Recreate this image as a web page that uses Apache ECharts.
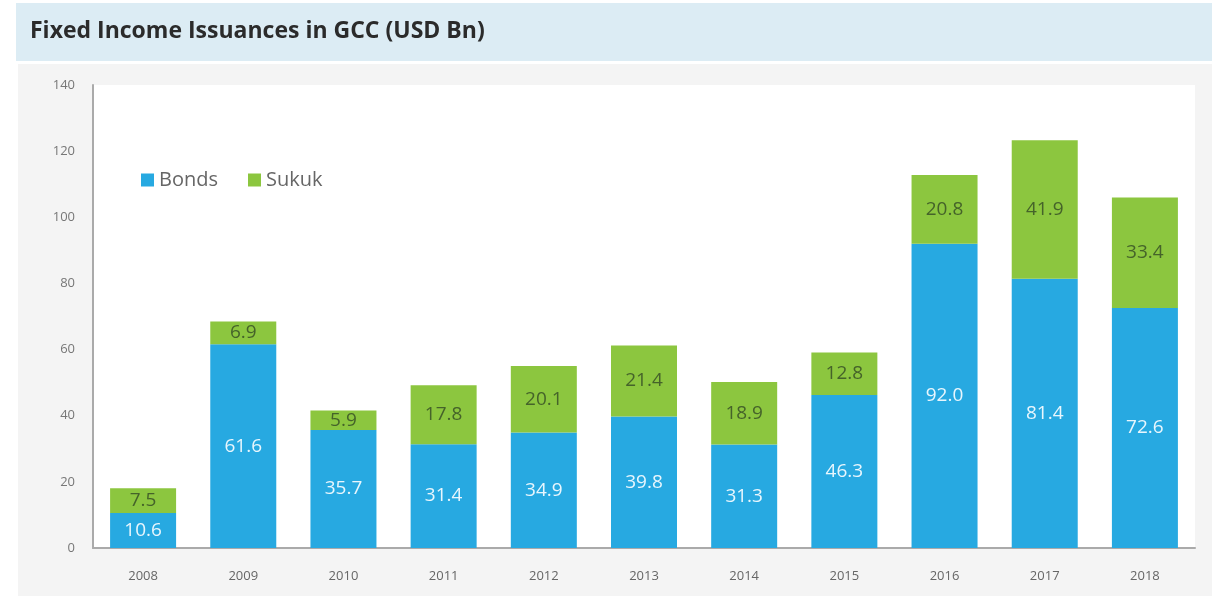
<!DOCTYPE html>
<html><head><meta charset="utf-8">
<script src="https://cdn.jsdelivr.net/npm/echarts@6/dist/echarts.min.js"></script>
<style>html,body{margin:0;padding:0;background:#fff}#c{width:1227px;height:598px}</style>
</head><body><div id="c"></div>
<script>
const categories = ['2008','2009','2010','2011','2012','2013','2014','2015','2016','2017','2018'];
const bonds = [10.6, 61.6, 35.7, 31.4, 34.9, 39.8, 31.3, 46.3, 92.0, 81.4, 72.6];
const sukuk = [7.5, 6.9, 5.9, 17.8, 20.1, 21.4, 18.9, 12.8, 20.8, 41.9, 33.4];
const yTicks = [0, 20, 40, 60, 80, 100, 120, 140];

const chart = echarts.init(document.getElementById('c'));
chart.setOption({
  animation: false,
  backgroundColor: '#ffffff',
  graphic: [
    {type:'rect', shape:{x:16,y:3,width:1196,height:58}, style:{fill:'#dcecf4'}, z:-10},
    {type:'rect', shape:{x:18,y:64,width:1194,height:532}, style:{fill:'#f4f4f4'}, z:-10},
    {type:'text', left:30, top:20, style:{text:'Fixed Income Issuances in GCC (USD Bn)', font:'bold 23px "Open Sans", sans-serif', fill:'#2b2b2b'}}
  ],
  legend: {
    left: 136, top: 165, itemWidth: 13, itemHeight: 13, itemGap: 30,
    icon: 'rect',
    textStyle: {fontSize: 20, color: '#666', fontFamily: '"Open Sans", sans-serif'},
    data: ['Bonds','Sukuk']
  },
  grid: {left: 93, right: 32, top: 85, bottom: 50, show: true, backgroundColor: '#ffffff', borderWidth: 0},
  xAxis: {
    type: 'category', data: categories,
    axisLine: {lineStyle: {color: '#aaa', width: 2}},
    axisTick: {show: false},
    axisLabel: {color: '#666', fontSize: 13, margin: 22, fontFamily: '"Open Sans", sans-serif'}
  },
  yAxis: {
    type: 'value', min: 0, max: 140, interval: 20,
    axisLine: {show: true, lineStyle: {color: '#aaa', width: 2}},
    axisTick: {show: false},
    splitLine: {show: false},
    axisLabel: {color: '#777', fontSize: 13, margin: 18, fontFamily: '"Open Sans", sans-serif',
      formatter: v => yTicks.includes(v) ? String(v) : ''}
  },
  series: [
    {name:'Bonds', type:'bar', stack:'t', data: bonds, barWidth: 66,
     itemStyle:{color:'#27a9e1'},
     label:{show:true, position:'inside', color:'#e8f6fd', fontSize:19, fontFamily:'"Open Sans", sans-serif', formatter: p => p.value.toFixed(1)}},
    {name:'Sukuk', type:'bar', stack:'t', data: sukuk, barWidth: 66,
     itemStyle:{color:'#8cc63f'},
     label:{show:true, position:'inside', color:'#45632a', fontSize:19, fontFamily:'"Open Sans", sans-serif', formatter: p => p.value.toFixed(1)}}
  ]
});
</script></body></html>
